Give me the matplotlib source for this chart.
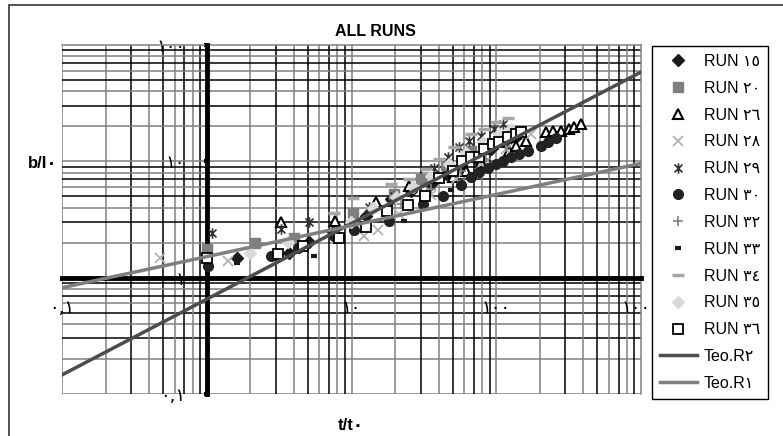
import matplotlib
matplotlib.use("Agg")
import matplotlib.pyplot as plt
import matplotlib.ticker as mticker
from matplotlib.path import Path
from matplotlib.patches import Rectangle

FONTS = ["Liberation Sans", "DejaVu Sans"]
plt.rcParams["font.family"] = FONTS

# --- data (t/t0, b/l0) ---
run15_x = [1.61, 3.69, 5.07, 7.42, 12.5, 18.7, 25.7, 35.3, 44.8, 56.9, 72.2, 91.6, 116, 136]
run15_y = [1.49, 1.64, 2.04, 2.49, 3.36, 4.70, 5.51, 6.34, 7.73, 9.06, 10.4, 12.7, 14.6, 16.1]

run20_x = [1.0, 2.15, 3.99, 10.2, 19.6, 30.1, 44.8, 66.7]
run20_y = [1.78, 2.00, 2.21, 3.63, 5.19, 7.0, 9.24, 12.2]

run26_x = [3.25, 7.66, 14.7, 24.9, 50.1, 61.5, 78.1, 122, 136, 160, 220, 246, 279, 317, 343, 384]
run26_y = [2.98, 3.04, 4.43, 6.09, 7.28, 8.20, 9.80, 12.2, 13.5, 14.9, 17.8, 18.1, 18.1, 18.9, 19.6, 20.8]

run28_x = [0.473, 1.40, 12.2, 15.2, 21.2, 35.3, 52.5, 78.1, 116, 173]
run28_y = [1.49, 1.40, 2.30, 2.59, 3.56, 5.09, 7.0, 9.42, 12.7, 17.1]

run29_x = [1.08, 3.25, 5.07, 13.2, 19.6, 37.0, 46.2, 55.1, 64.6, 78.1, 96.1, 111]
run29_y = [2.44, 2.64, 2.98, 4.09, 4.99, 8.70, 11.0, 13.2, 14.9, 16.4, 18.9, 20.8]

run30_x = [1.02, 2.77, 4.25, 7.54, 10.4, 18.1, 31.1, 42.7, 56.9, 66.7, 75.7, 87.4,
           99.3, 111, 126, 143, 165, 203, 227, 258]
run30_y = [1.27, 1.55, 1.81, 2.26, 2.59, 3.04, 4.34, 4.99, 6.21, 7.28, 8.04, 8.70,
           9.42, 10.0, 10.8, 11.5, 12.2, 13.5, 14.6, 15.8]

run32_x = [21.9, 35.3, 56.9, 84.6, 116]
run32_y = [4.26, 5.74, 8.20, 10.4, 13.2]

run33_x = [1.61, 5.48, 22.9, 48.5]
run33_y = [1.35, 1.55, 3.04, 5.62]

run34_x = [7.54, 10.2, 18.7, 24.9, 32.6, 40.1, 50.9, 66.7, 82.0, 99.3, 120]
run34_y = [3.63, 4.80, 6.34, 7.0, 8.53, 10.4, 13.2, 17.1, 18.9, 21.7, 23.5]

run35_x = [1.98, 3.63, 9.89, 14.0, 20.2, 26.5, 35.3, 46.9, 61.5, 80.7, 104, 126]
run35_y = [1.64, 2.04, 2.98, 4.01, 4.89, 5.97, 7.42, 9.42, 11.9, 14.6, 17.1, 18.9]

run36_x = [1.0, 3.09, 4.61, 8.16, 12.5, 17.5, 24.5, 32.1, 40.1, 50.1, 57.8, 66.7,
           75.7, 82.0, 94.6, 104, 120, 136, 148]
run36_y = [1.49, 1.61, 1.89, 2.21, 2.75, 3.71, 4.18, 4.99, 7.13, 8.20, 10.0, 11.0,
           11.0, 12.7, 14.0, 14.6, 16.1, 17.1, 17.8]

teo_x = [0.1, 1000]
teo_r2_y = [0.146, 58.5]
teo_r1_y = [0.82, 9.6]

run_labels = ["RUN ١٥", "RUN ٢٠", "RUN ٢٦", "RUN ٢٨", "RUN ٢٩", "RUN ٣٠",
              "RUN ٣٢", "RUN ٣٣", "RUN ٣٤", "RUN ٣٥", "RUN ٣٦"]
teo_labels = ["Teo.R٢", "Teo.R١"]

AR_DIGITS = str.maketrans("0123456789.", "٠١٢٣٤٥٦٧٨٩,")

# asterisk like the spreadsheet one: an x with a vertical bar
star = Path([(-1, -1), (1, 1), (-1, 1), (1, -1), (0, -1.3), (0, 1.3)],
            [Path.MOVETO, Path.LINETO, Path.MOVETO, Path.LINETO, Path.MOVETO, Path.LINETO])

styles = [
    dict(marker="D", ms=6, mfc="#1a1a1a", mec="#1a1a1a"),
    dict(marker="s", ms=6.5, mfc="#7f7f7f", mec="#7f7f7f"),
    dict(marker="^", ms=7.5, mfc="white", mec="black", mew=1.5),
    dict(marker="x", ms=7.5, mec="#b3b3b3", mew=1.3),
    dict(marker=star, ms=7.5, mec="#333333", mew=1.2),
    dict(marker="o", ms=7, mfc="#222222", mec="#222222"),
    dict(marker="+", ms=7.5, mec="#808080", mew=1.2),
    dict(marker="_", ms=5, mec="#1a1a1a", mew=3),
    dict(marker="_", ms=8, mec="#a6a6a6", mew=2.5),
    dict(marker="D", ms=6, mfc="#d9d9d9", mec="#d9d9d9"),
    dict(marker="s", ms=6.5, mfc="white", mec="black", mew=1.3),
]
series = [(run15_x, run15_y), (run20_x, run20_y), (run26_x, run26_y), (run28_x, run28_y),
          (run29_x, run29_y), (run30_x, run30_y), (run32_x, run32_y), (run33_x, run33_y),
          (run34_x, run34_y), (run35_x, run35_y), (run36_x, run36_y)]

fig = plt.figure(figsize=(7.83, 4.36), dpi=100)
ax = fig.add_axes([62 / 783, 1 - 394 / 436, 579 / 783, 349 / 436])
ax.set_xscale("log")
ax.set_yscale("log")
ax.set_xlim(0.1, 1000)
ax.set_ylim(0.1, 100)

# alternating black / gray grid like the original sheet
for dec in [0.1, 1, 10, 100]:
    for k in range(1, 10):
        c = "black" if k in (3, 5, 7, 9) else "#808080"
        ax.axvline(k * dec, color=c, lw=1.1, zorder=0.5)
        if dec < 100:
            ax.axhline(k * dec, color=c, lw=1.1, zorder=0.5)

handles = []
for (xs, ys), st in zip(series, styles):
    h, = ax.plot(xs, ys, ls="none", zorder=3, **st)
    handles.append(h)

h2, = ax.plot(teo_x, teo_r2_y, color="#4d4d4d", lw=2.5, zorder=4)
h1, = ax.plot(teo_x, teo_r1_y, color="#7f7f7f", lw=2.5, zorder=4)
handles += [h2, h1]

# axes cross at (1, 1)
for side in ["left", "bottom"]:
    ax.spines[side].set_position(("data", 1))
    ax.spines[side].set_linewidth(3.5)
    ax.spines[side].set_zorder(2.6)
for side in ["top", "right"]:
    ax.spines[side].set_color("#808080")
    ax.spines[side].set_linewidth(1.1)

ax.xaxis.set_major_locator(mticker.FixedLocator([0.1, 1, 10, 100, 1000]))
ax.yaxis.set_major_locator(mticker.FixedLocator([0.1, 1, 10, 100]))
ax.xaxis.set_minor_locator(mticker.NullLocator())
ax.yaxis.set_minor_locator(mticker.NullLocator())


def ar_fmt(v, pos):
    if v < 1:
        return f"{v:g}".translate(AR_DIGITS)
    return f"{v:.0f}".translate(AR_DIGITS)


ax.xaxis.set_major_formatter(mticker.FuncFormatter(lambda v, p: "" if v == 1 else ar_fmt(v, p)))
ax.yaxis.set_major_formatter(mticker.FuncFormatter(ar_fmt))
ax.tick_params(axis="both", direction="out", length=2.5, width=3, labelsize=13)
ax.tick_params(axis="x", pad=13)
ax.tick_params(axis="y", pad=13)
for lab in ax.get_xticklabels() + ax.get_yticklabels():
    lab.set_family(["DejaVu Sans"])

fig.text(375 / 783, 1 - 31 / 436, "ALL RUNS", ha="center", va="center",
         fontsize=11.5, fontweight="bold")
fig.text(351 / 783, 1 - 425 / 436, "t/t٠", ha="center", va="center",
         fontsize=12, fontweight="bold")
fig.text(43 / 783, 1 - 163 / 436, "b/I٠", ha="center", va="center",
         fontsize=12, fontweight="bold")

leg = ax.legend(handles, run_labels + teo_labels, loc="upper left",
                bbox_to_anchor=(652 / 783, 1 - 46 / 436), bbox_transform=fig.transFigure,
                fancybox=False, edgecolor="black", framealpha=1, fontsize=11.5,
                handlelength=2.3, handletextpad=0.45, labelspacing=0.74,
                borderpad=0.5, borderaxespad=0)
leg.get_frame().set_linewidth(1.0)

# outer chart-area border
fig.patches.append(Rectangle((9 / 783, -0.01), 0.995, 0.998, transform=fig.transFigure,
                             fill=False, edgecolor="#333333", lw=1.2))

fig.savefig("out.png", dpi=100)
